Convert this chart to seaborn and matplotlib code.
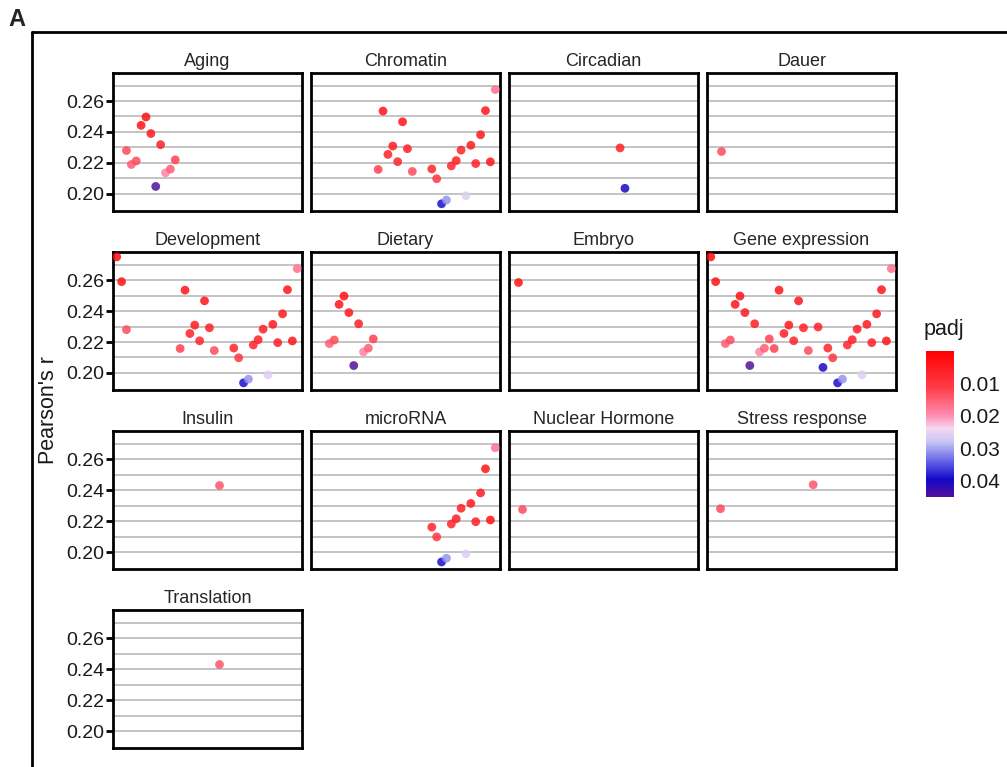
import matplotlib
matplotlib.use("Agg")
import matplotlib.pyplot as plt
import numpy as np
import pandas as pd
import seaborn as sns
from matplotlib.colors import LinearSegmentedColormap, Normalize
from matplotlib.lines import Line2D
from matplotlib.cm import ScalarMappable

# One entry per enriched term: rank on the x axis, correlation, adjusted p value
term_rank = list(range(38))
term_r = [0.2750, 0.2590, 0.2280, 0.2190, 0.2213, 0.2443, 0.2497, 0.2390, 0.2048, 0.2318,
          0.2136, 0.2160, 0.2220, 0.2158, 0.2535, 0.2255, 0.2309, 0.2208, 0.2466, 0.2292,
          0.2145, 0.2435, 0.2297, 0.2036, 0.2161, 0.2098, 0.1936, 0.1960, 0.2181, 0.2215,
          0.2283, 0.1988, 0.2314, 0.2196, 0.2382, 0.2538, 0.2207, 0.2674]
term_padj = [0.002, 0.004, 0.013, 0.015, 0.013, 0.004, 0.003, 0.005, 0.045, 0.006,
             0.019, 0.015, 0.012, 0.012, 0.004, 0.006, 0.005, 0.007, 0.004, 0.006,
             0.013, 0.014, 0.006, 0.040, 0.007, 0.010, 0.039, 0.031, 0.007, 0.006,
             0.006, 0.026, 0.005, 0.006, 0.005, 0.004, 0.004, 0.017]

categories = ["Aging", "Chromatin", "Circadian", "Dauer",
              "Development", "Dietary", "Embryo", "Gene expression",
              "Insulin", "microRNA", "Nuclear Hormone", "Stress response",
              "Translation"]

# which terms fall in each category
members = {
    "Aging": [2, 3, 4, 5, 6, 7, 8, 9, 10, 11, 12],
    "Chromatin": [13, 14, 15, 16, 17, 18, 19, 20, 24, 25, 26, 27, 28, 29, 30, 31, 32, 33, 34, 35, 36, 37],
    "Circadian": [22, 23],
    "Dauer": [2],
    "Development": [0, 1, 2, 13, 14, 15, 16, 17, 18, 19, 20, 24, 25, 26, 27, 28, 29, 30, 31, 32, 33, 34, 35, 36, 37],
    "Dietary": [3, 4, 5, 6, 7, 8, 9, 10, 11, 12],
    "Embryo": [1],
    "Gene expression": [0, 1, 3, 4, 5, 6, 7, 8, 9, 10, 11, 12, 13, 14, 15, 16, 17, 18, 19, 20,
                        22, 23, 24, 25, 26, 27, 28, 29, 30, 31, 32, 33, 34, 35, 36, 37],
    "Insulin": [21],
    "microRNA": [24, 25, 26, 27, 28, 29, 30, 31, 32, 33, 34, 35, 36, 37],
    "Nuclear Hormone": [2],
    "Stress response": [2, 21],
    "Translation": [21],
}

y_ticks = [0.20, 0.22, 0.24, 0.26]
y_minor = [0.21, 0.23, 0.25, 0.27]
padj_ticks = [0.01, 0.02, 0.03, 0.04]

rows = []
for cat in categories:
    for i in members[cat]:
        rows.append({"category": cat, "rank": term_rank[i], "r": term_r[i], "padj": term_padj[i]})
df = pd.DataFrame(rows)

sns.set_style("white")
plt.rcParams["font.family"] = ["Liberation Sans", "DejaVu Sans"]

cmap = LinearSegmentedColormap.from_list("padj", [
    (0.00, "#ff0000"), (0.25, "#ff3c48"), (0.44, "#ff8cb0"), (0.53, "#f6d6f0"),
    (0.62, "#c8c8f4"), (0.75, "#6868e8"), (0.88, "#1408c8"), (1.00, "#50109c")])
norm = Normalize(vmin=0.0002, vmax=0.0449)

g = sns.FacetGrid(df, col="category", col_wrap=4, col_order=categories,
                  sharex=True, sharey=True, despine=False, height=2, aspect=1.37)
g.map_dataframe(sns.scatterplot, x="rank", y="r", hue="padj", palette=cmap, hue_norm=norm,
                legend=False, s=40, alpha=0.85, linewidth=0, zorder=3)
g.set_titles("{col_name}", size=13, pad=5)
g.set_axis_labels("", "")

for k, ax in enumerate(g.axes.flat):
    ax.set_xlim(-0.76, 37.97)
    ax.set_ylim(0.1891, 0.2781)
    ax.set_xticks([])
    ax.set_yticks(y_ticks)
    ax.set_yticks(y_minor, minor=True)
    ax.grid(False)
    ax.grid(True, which="both", axis="y", color="#c4c4c4", linewidth=1.4)
    ax.set_axisbelow(True)
    ax.tick_params(axis="y", which="minor", length=0)
    for sp in ax.spines.values():
        sp.set_visible(True)
        sp.set_color("black")
        sp.set_linewidth(2.0)
    if k % 4 == 0:
        ax.tick_params(axis="y", which="major", left=True, length=5, width=2,
                       color="black", labelsize=14, labelcolor="#1a1a1a", pad=1)
        ax.set_yticklabels([f"{t:.2f}" for t in y_ticks])
    else:
        ax.tick_params(axis="y", which="major", left=False, labelleft=False)

fig = g.figure
fig.set_size_inches(10.07, 7.67)
fig.subplots_adjust(left=113 / 1007, right=896 / 1007, top=1 - 73 / 767, bottom=1 - 748 / 767,
                    wspace=0.048, hspace=0.30)

fig.text(48 / 1007, 1 - 410 / 767, "Pearson's r", rotation=90, ha="center", va="center",
         fontsize=15.5, color="#1a1a1a")

# colour bar for padj (small values at the top)
cax = fig.add_axes([926 / 1007, 1 - 497 / 767, 28 / 1007, 146 / 767])
cb = fig.colorbar(ScalarMappable(norm=norm, cmap=cmap), cax=cax)
cb.outline.set_visible(False)
cax.invert_yaxis()
cb.set_ticks(padj_ticks)
cb.set_ticklabels([f"{t:.2f}" for t in padj_ticks])
cax.tick_params(axis="y", direction="in", left=True, right=True, length=5, width=1,
                color="white", labelsize=15, labelcolor="#1a1a1a", pad=4)
fig.text(924 / 1007, 1 - 329 / 767, "padj", ha="left", va="center", fontsize=15.5, color="#1a1a1a")

# panel label and the frame around the figure
fig.text(8 / 1007, 1 - 19 / 767, "A", ha="left", va="center", fontsize=17, fontweight="bold")
fig.add_artist(Line2D([32 / 1007, 1.0], [1 - 32 / 767, 1 - 32 / 767], color="black", linewidth=2,
                      transform=fig.transFigure))
fig.add_artist(Line2D([32 / 1007, 32 / 1007], [1 - 32 / 767, 0.0], color="black", linewidth=2,
                      transform=fig.transFigure))

fig.savefig("out.png", dpi=100)
